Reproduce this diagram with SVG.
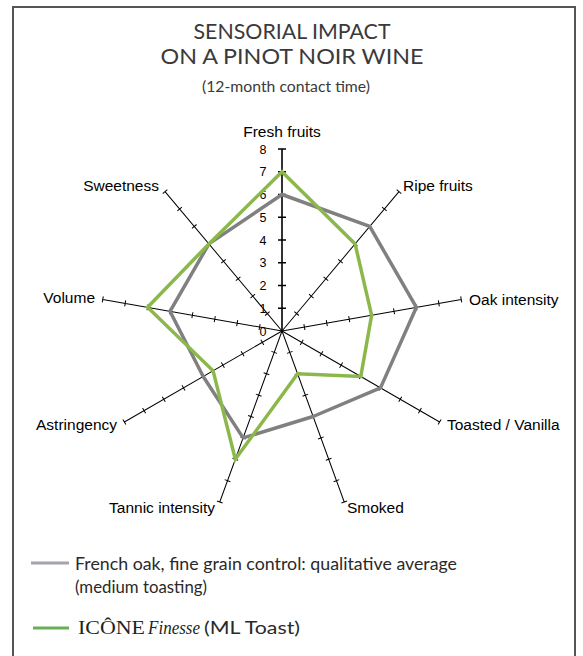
<svg xmlns="http://www.w3.org/2000/svg" xmlns:xlink="http://www.w3.org/1999/xlink" width="583" height="656" viewBox="0 0 583 656">
<style>
.frame{fill:none;stroke:#555;stroke-width:2}
.title{font-family:Lato,"Liberation Sans",sans-serif;font-weight:400;fill:#3a3a3a;text-anchor:middle}
.ax{stroke:#000;stroke-width:1;fill:none}
.lbl{font-family:"Liberation Sans",Arial,sans-serif;font-size:15.5px;fill:#000}
.num{font-family:"Liberation Sans",Arial,sans-serif;font-size:12.5px;fill:#000;text-anchor:middle}
.gray{fill:none;stroke:#808080;stroke-width:3.5;stroke-linejoin:round}
.green{fill:none;stroke:#8cb84b;stroke-width:3.5;stroke-linejoin:miter}
.leg{font-family:Lato,"Liberation Sans",sans-serif;font-weight:400;font-size:16.5px;fill:#2a2a2a}
</style>
<defs>
<g id="axis">
<path class="ax" d="M282,331V149M279,308.25H285M279,285.5H285M279,262.75H285M279,240H285M279,217.25H285M279,194.5H285M279,171.75H285M279,149H285"/>
</g>
</defs>
<path class="frame" d="M13,656V7H575V656"/>
<g id="title">
<text class="title" x="292" y="39" font-size="21" textLength="197" lengthAdjust="spacingAndGlyphs">SENSORIAL IMPACT</text>
<text class="title" x="292" y="64" font-size="21" textLength="263" lengthAdjust="spacingAndGlyphs">ON A PINOT NOIR WINE</text>
<text class="title" x="286" y="92" font-size="15.5" textLength="168" lengthAdjust="spacingAndGlyphs">(12-month contact time)</text>
</g>
<g id="axes">
<use xlink:href="#axis" href="#axis" transform="rotate(40 282 331)"/>
<use xlink:href="#axis" href="#axis" transform="rotate(80 282 331)"/>
<use xlink:href="#axis" href="#axis" transform="rotate(120 282 331)"/>
<use xlink:href="#axis" href="#axis" transform="rotate(160 282 331)"/>
<use xlink:href="#axis" href="#axis" transform="rotate(200 282 331)"/>
<use xlink:href="#axis" href="#axis" transform="rotate(240 282 331)"/>
<use xlink:href="#axis" href="#axis" transform="rotate(280 282 331)"/>
<use xlink:href="#axis" href="#axis" transform="rotate(320 282 331)"/>
<path class="ax" d="M282,331V149M278,308.25H286M278,285.5H286M278,262.75H286M278,240H286M278,217.25H286M278,194.5H286M278,171.75H286M278,149H286" style="stroke-width:1.6"/>
</g>
<g id="scale">
<text class="num" x="263" y="335.5">0</text>
<text class="num" x="263" y="312.75">1</text>
<text class="num" x="263" y="290">2</text>
<text class="num" x="263" y="267.25">3</text>
<text class="num" x="263" y="244.5">4</text>
<text class="num" x="263" y="221.75">5</text>
<text class="num" x="263" y="199">6</text>
<text class="num" x="263" y="176.25">7</text>
<text class="num" x="263" y="153.5">8</text>
</g>
<g id="labels">
<text class="lbl" x="282" y="137" text-anchor="middle">Fresh fruits</text>
<text class="lbl" x="403" y="191">Ripe fruits</text>
<text class="lbl" x="469" y="305">Oak intensity</text>
<text class="lbl" x="447" y="430">Toasted / Vanilla</text>
<text class="lbl" x="347" y="513">Smoked</text>
<text class="lbl" x="215" y="513" text-anchor="end">Tannic intensity</text>
<text class="lbl" x="117" y="430" text-anchor="end">Astringency</text>
<text class="lbl" x="95" y="303" text-anchor="end">Volume</text>
<text class="lbl" x="159" y="191" text-anchor="end">Sweetness</text>
</g>
<g id="series-control">
<polygon class="gray" points="282,194.5 369.7,226.4 416.4,307.3 380.5,387.9 313.1,416.5 243.1,437.9 203.2,376.5 170,311.3 208.9,243.9"/>
</g>
<g id="series-icone">
<polygon class="green" points="282,171.75 355.1,243.9 371.6,315.2 360.8,376.5 297.6,373.8 235.3,459.3 213.1,370.8 147.6,307.3 208.9,243.9"/>
</g>
<g id="legend">
<line x1="31" y1="563" x2="69" y2="563" stroke="#a4a4ab" stroke-width="3"/>
<text class="leg" x="75" y="570" textLength="382" lengthAdjust="spacingAndGlyphs">French oak, fine grain control: qualitative average</text>
<text class="leg" x="75" y="593" textLength="132" lengthAdjust="spacingAndGlyphs">(medium toasting)</text>
<line x1="33" y1="628" x2="69" y2="628" stroke="#6aae57" stroke-width="3"/>
<text x="78" y="634" font-family="'Liberation Serif',serif" font-size="18" fill="#231f20" textLength="67" lengthAdjust="spacingAndGlyphs">ICÔNE</text>
<text x="148" y="634" font-family="'Liberation Serif',serif" font-style="italic" font-size="18" fill="#231f20" textLength="52" lengthAdjust="spacingAndGlyphs">Finesse</text>
<text class="leg" x="204" y="634" textLength="96" lengthAdjust="spacingAndGlyphs">(ML Toast)</text>
</g>
</svg>
